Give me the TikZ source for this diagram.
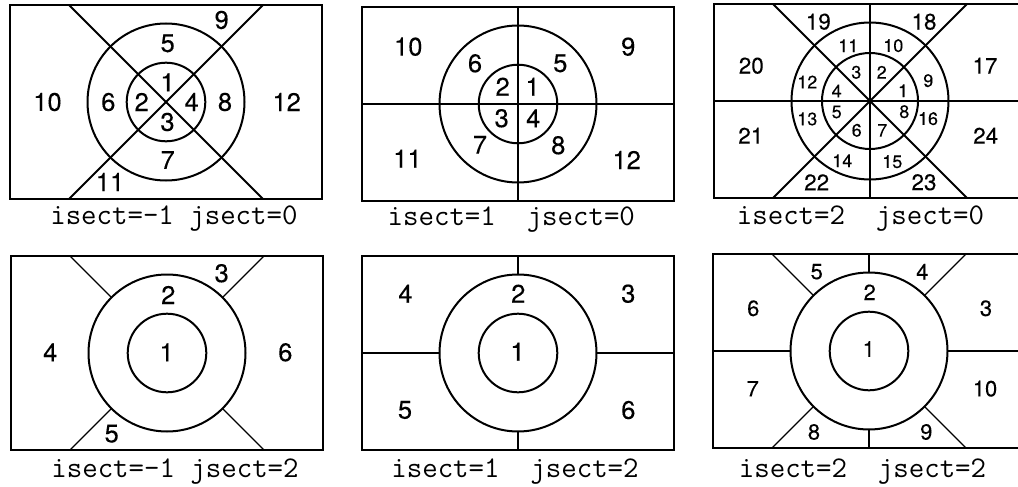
\documentclass[tikz,border=0pt]{standalone}
\usepackage{fontspec}
\setmainfont{TeX Gyre Heros}[FakeBold=0.15]
\begin{document}
\begin{tikzpicture}[x=1pt,y=-1pt,
  thickline/.style={line width=2pt},
  thinline/.style={line width=1.2pt},
  lab/.style={font=\fontsize{25.5}{25.5}\selectfont, inner sep=0pt},
  labm/.style={font=\fontsize{22.5}{22.5}\selectfont, inner sep=0pt},
  labs/.style={font=\fontsize{18}{18}\selectfont, inner sep=0pt},
  labq/.style={font=\fontsize{22}{22}\selectfont, inner sep=0pt},
  captxt/.style={font=\ttfamily\fontsize{30}{30}\selectfont, anchor=base, inner sep=0pt}]
\useasboundingbox (0,0) rectangle (1018,487);
\clip (0,0) rectangle (1018,487);
\def\hw{156}\def\hh{97}\def\ro{78.5}\def\ri{39.3}
% ---------- Panel 1 ----------
\begin{scope}[shift={(166,102)}]
  \draw[thickline] (-\hw,-\hh) rectangle (\hw,\hh);
  \draw[thickline] (-\hh,-\hh) -- (\hh,\hh);
  \draw[thickline] (\hh,-\hh) -- (-\hh,\hh);
  \draw[thickline] (0,0) circle[radius=\ro];
  \draw[thickline] (0,0) circle[radius=\ri];
\end{scope}
\node[lab] (a10) at (47.5,102) {10};
\node[lab] (a6) at (108.3,102) {6};
\node[lab] (a2) at (141.7,102) {2};
\node[lab] (a1) at (167.5,82.3) {1};
\node[lab] (a4) at (191.7,102) {4};
\node[lab] (a3) at (167.5,122) {3};
\node[lab] (a8) at (225,102) {8};
\node[lab] (a12) at (286.7,102) {12};
\node[lab] (a5) at (167.7,43.3) {5};
\node[lab] (a7) at (167.7,160) {7};
\node[lab] (a9) at (221.7,20) {9};
\node[lab] (a11) at (110,182) {11};
\node[captxt] (capa) at (173.9,224.5) {isect=-1 jsect=0};
% ---------- Panel 2 ----------
\begin{scope}[shift={(518,104)}]
  \draw[thickline] (-\hw,-\hh) rectangle (\hw,\hh);
  \draw[thickline] (0,-\hh) -- (0,\hh);
  \draw[thickline] (-\hw,0) -- (\hw,0);
  \draw[thickline] (0,0) circle[radius=\ro];
  \draw[thickline] (0,0) circle[radius=\ri];
\end{scope}
\node[lab] (b10) at (408.3,46.7) {10};
\node[lab] (b9) at (628.3,46.7) {9};
\node[lab] (b6) at (475,63.3) {6};
\node[lab] (b5) at (560.3,63.3) {5};
\node[lab] (b2) at (502.7,86.7) {2};
\node[lab] (b1) at (532.7,86.7) {1};
\node[lab] (b3) at (501.7,118.3) {3};
\node[lab] (b4) at (533.3,118.3) {4};
\node[lab] (b7) at (480,144.7) {7};
\node[lab] (b8) at (558.3,145.3) {8};
\node[lab] (b11) at (407.5,158.7) {11};
\node[lab] (b12) at (626.7,160) {12};
\node[captxt] (capb) at (511.3,225) {isect=1~~jsect=0};
% ---------- Panel 3 ----------
\begin{scope}[shift={(870,101)}]
  \draw[thickline] (-\hw,-\hh) rectangle (\hw,\hh);
  \draw[thickline] (-\hh,-\hh) -- (\hh,\hh);
  \draw[thickline] (\hh,-\hh) -- (-\hh,\hh);
  \draw[thickline] (0,-\hh) -- (0,\hh);
  \draw[thickline] (-\hw,0) -- (\hw,0);
  \draw[thickline] (0,0) circle[radius=\ro];
  \draw[thickline] (0,0) circle[radius=48];
\end{scope}
\node[labm] (c19) at (818.3,21.7) {19};
\node[labm] (c18) at (924,21.7) {18};
\node[labm] (c20) at (751.3,65.7) {20};
\node[labm] (c17) at (985,65.7) {17};
\node[labm] (c21) at (750.8,135.7) {21};
\node[labm] (c24) at (985.7,135.7) {24};
\node[labm] (c22) at (816.7,182.3) {22};
\node[labm] (c23) at (924,182.3) {23};
\node[labs] (c11) at (848.3,45.7) {11};
\node[labs] (c10) at (893.3,45.7) {10};
\node[labs] (c12) at (807.3,82) {12};
\node[labs] (c9) at (928.3,80.7) {9};
\node[labs] (c13) at (807.3,119) {13};
\node[labs] (c16) at (928,118.7) {16};
\node[labs] (c14) at (842.3,160.7) {14};
\node[labs] (c15) at (892.3,161.7) {15};
\node[labs] (c3) at (856.3,72.3) {3};
\node[labs] (c2) at (881.7,72.3) {2};
\node[labs] (c4) at (836.7,91) {4};
\node[labs] (c1) at (903,90.7) {1};
\node[labs] (c5) at (836.7,112) {5};
\node[labs] (c8) at (904.3,111.7) {8};
\node[labs] (c6) at (856.7,130.3) {6};
\node[labs] (c7) at (882.3,130.3) {7};
\node[captxt] (capc) at (860.5,224) {isect=2~~jsect=0};
% ---------- Panel 4 ----------
\begin{scope}[shift={(167,353)}]
  \draw[thickline] (-\hw,-\hh) rectangle (\hw,\hh);
  \draw[thickline] (0,0) circle[radius=\ro];
  \draw[thickline] (0,0) circle[radius=\ri];
  \draw[thinline] (-55.5,-55.5) -- (-\hh,-\hh);
  \draw[thinline] (55.5,-55.5) -- (\hh,-\hh);
  \draw[thinline] (-55.5,55.5) -- (-\hh,\hh);
  \draw[thinline] (55.5,55.5) -- (\hh,\hh);
\end{scope}
\node[lab] (d4) at (50.3,352.3) {4};
\node[lab] (d1) at (166.7,352.3) {1};
\node[lab] (d6) at (285.3,352.3) {6};
\node[lab] (d2) at (168.3,295) {2};
\node[lab] (d3) at (221.7,273.3) {3};
\node[lab] (d5) at (111.7,433.7) {5};
\node[captxt] (capd) at (175,477) {isect=-1 jsect=2};
% ---------- Panel 5 ----------
\begin{scope}[shift={(518,353)}]
  \draw[thickline] (-\hw,-\hh) rectangle (\hw,\hh);
  \draw[thickline] (0,0) circle[radius=\ro];
  \draw[thickline] (0,0) circle[radius=\ri];
  \draw[thickline] (0,-\ro) -- (0,-\hh);
  \draw[thickline] (0,\ro) -- (0,\hh);
  \draw[thickline] (-\ro,0) -- (-\hw,0);
  \draw[thickline] (\ro,0) -- (\hw,0);
\end{scope}
\node[lab] (e4) at (405.5,293.7) {4};
\node[lab] (e2) at (518.3,293.7) {2};
\node[lab] (e3) at (628.3,293.7) {3};
\node[lab] (e1) at (517.5,351.7) {1};
\node[lab] (e5) at (405,410) {5};
\node[lab] (e6) at (628.3,410) {6};
\node[captxt] (cape) at (515,477.5) {isect=1~~jsect=2};
% ---------- Panel 6 ----------
\begin{scope}[shift={(869,351)}]
  \draw[thickline] (-\hw,-\hh) rectangle (\hw,\hh);
  \draw[thickline] (0,0) circle[radius=\ro];
  \draw[thickline] (0,0) circle[radius=\ri];
  \draw[thickline] (0,-\ro) -- (0,-\hh);
  \draw[thickline] (0,\ro) -- (0,\hh);
  \draw[thickline] (-\ro,0) -- (-\hw,0);
  \draw[thickline] (\ro,0) -- (\hw,0);
  \draw[thinline] (-55.5,-55.5) -- (-\hh,-\hh);
  \draw[thinline] (55.5,-55.5) -- (\hh,-\hh);
  \draw[thinline] (-55.5,55.5) -- (-\hh,\hh);
  \draw[thinline] (55.5,55.5) -- (\hh,\hh);
\end{scope}
\node[labq] (f5) at (816.7,271.7) {5};
\node[labq] (f4) at (922.3,271.7) {4};
\node[labq] (f2) at (869.7,292.3) {2};
\node[labq] (f6) at (753.3,308.3) {6};
\node[labq] (f3) at (986,308.3) {3};
\node[labq] (f1) at (868.7,349) {1};
\node[labq] (f7) at (752.7,388.7) {7};
\node[labq] (f10) at (985,388.7) {10};
\node[labq] (f8) at (814,432) {8};
\node[labq] (f9) at (926.3,432) {9};
\node[captxt] (capf) at (862.5,477) {isect=2~~jsect=2};
\end{tikzpicture}
\end{document}
